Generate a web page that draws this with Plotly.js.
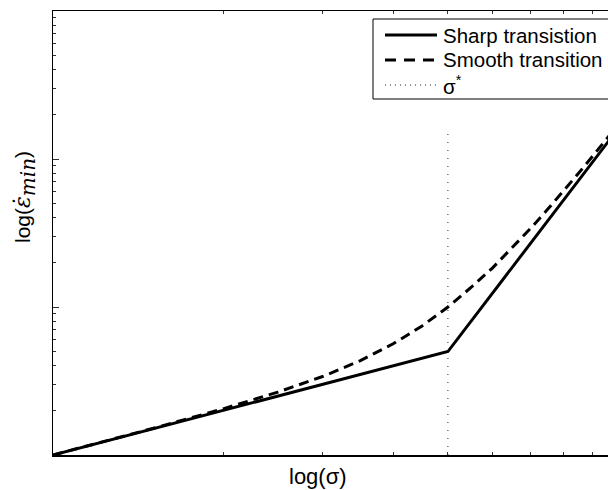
<!DOCTYPE html>
<html>
<head>
<meta charset="utf-8">
<script src="https://cdn.plot.ly/plotly-3.0.1.min.js"></script>
<style>
html, body { margin: 0; padding: 0; overflow: hidden; background: #fff; }
#chart { width: 630px; height: 490px; }
</style>
</head>
<body>
<div id="chart"></div>
<script>
// Stress values (log x axis)
var sigma = [1, 1.5, 2, 2.5, 3, 3.5, 4, 4.5, 5, 5.5, 6, 6.5, 7, 7.5, 8, 8.5, 9, 9.5, 10];
// Smooth transition: minimum strain rate
var smoothRate = [1.0, 1.51, 2.05, 2.66, 3.39, 4.34, 5.64, 7.45, 10.0, 13.6, 18.4, 25.1, 33.9, 45.5, 60.4, 79.5, 103.5, 133.3, 170];
// Sharp transition: break points
var sharpSigma = [1, 5, 10];
var sharpRate = [1, 5, 160];
// sigma* marker
var starSigma = [5, 5];
var starRate = [1, 148];

var seriesNames = ['Sharp transistion', 'Smooth transition', 'σ<sup>*</sup>'];

var majorX = [1, 10];
var minorX = [2, 3, 4, 5, 6, 7, 8, 9];
var majorY = [1, 10, 100, 1000];
var minorY = [2, 3, 4, 5, 6, 7, 8, 9, 20, 30, 40, 50, 60, 70, 80, 90, 200, 300, 400, 500, 600, 700, 800, 900];

var styles = [
  { color: '#000', width: 3 },
  { color: '#000', width: 3, dash: '10px,6px' },
  { color: '#222', width: 1, dash: '1px,7px' }
];
var legendDash = ['solid', '11px,8px', '1px,4px'];

var traces = [
  { x: sharpSigma, y: sharpRate, mode: 'lines', name: seriesNames[0], line: styles[0] },
  { x: sigma, y: smoothRate, mode: 'lines', name: seriesNames[1], line: styles[1] },
  { x: starSigma, y: starRate, mode: 'lines', name: seriesNames[2], line: styles[2] }
];

// pixel -> paper helpers (plot area: x 53..618, y 11..455)
function px(x) { return (x - 53) / 565; }
function py(y) { return (455 - y) / 444; }

var axisCommon = {
  type: 'log', showgrid: false, zeroline: false, showticklabels: false,
  showline: true, linecolor: '#000', linewidth: 1.5, mirror: 'allticks',
  ticks: 'inside', ticklen: 6, tickwidth: 1, tickcolor: '#333'
};

var shapes = [
  { type: 'rect', xref: 'paper', yref: 'paper', layer: 'above',
    x0: px(373), x1: px(640), y0: py(99), y1: py(19),
    fillcolor: '#fff', line: { color: '#000', width: 1 } }
];
var annotations = [
  { text: 'log(σ)', xref: 'paper', yref: 'paper',
    x: px(318), y: py(476), xanchor: 'center', yanchor: 'middle',
    showarrow: false, font: { size: 22, family: 'Liberation Sans, Arial, sans-serif' } },
  { text: 'log(<span style="font-family:\'DejaVu Serif\', serif; font-size:22px"><i>ε̇</i><sub><span style="font-size:20px"><i>min</i></span></sub></span>)',
    xref: 'paper', yref: 'paper',
    x: px(25), y: py(197), xanchor: 'center', yanchor: 'middle',
    textangle: -90, showarrow: false,
    font: { size: 21, family: 'Liberation Sans, Arial, sans-serif' } }
];
var rowY = [35, 60, 85];
for (var i = 0; i < 3; i++) {
  shapes.push({ type: 'line', xref: 'paper', yref: 'paper', layer: 'above',
    x0: px(385), x1: px(437), y0: py(rowY[i]), y1: py(rowY[i]),
    line: { color: styles[i].color, width: styles[i].width, dash: legendDash[i] } });
  annotations.push({ text: seriesNames[i], xref: 'paper', yref: 'paper',
    x: px(441), y: py(rowY[i]), xanchor: 'left', yanchor: 'middle', showarrow: false,
    font: { size: 20.5, family: 'Liberation Sans, Arial, sans-serif' } });
}

var layout = {
  width: 630, height: 490,
  margin: { l: 53, r: 12, t: 11, b: 35 },
  paper_bgcolor: '#fff', plot_bgcolor: '#fff',
  font: { family: 'Liberation Sans, Arial, sans-serif', color: '#000', size: 20 },
  showlegend: false,
  xaxis: Object.assign({}, axisCommon, {
    range: [0, 1],
    tickmode: 'array', tickvals: majorX,
    minor: { tickmode: 'array', tickvals: minorX, ticks: 'inside', ticklen: 3, tickcolor: '#333' }
  }),
  yaxis: Object.assign({}, axisCommon, {
    range: [0, 3],
    tickmode: 'array', tickvals: majorY,
    minor: { tickmode: 'array', tickvals: minorY, ticks: 'inside', ticklen: 3, tickcolor: '#333' }
  }),
  shapes: shapes,
  annotations: annotations
};

Plotly.newPlot('chart', traces, layout, { displayModeBar: false, staticPlot: true });
</script>
</body>
</html>
